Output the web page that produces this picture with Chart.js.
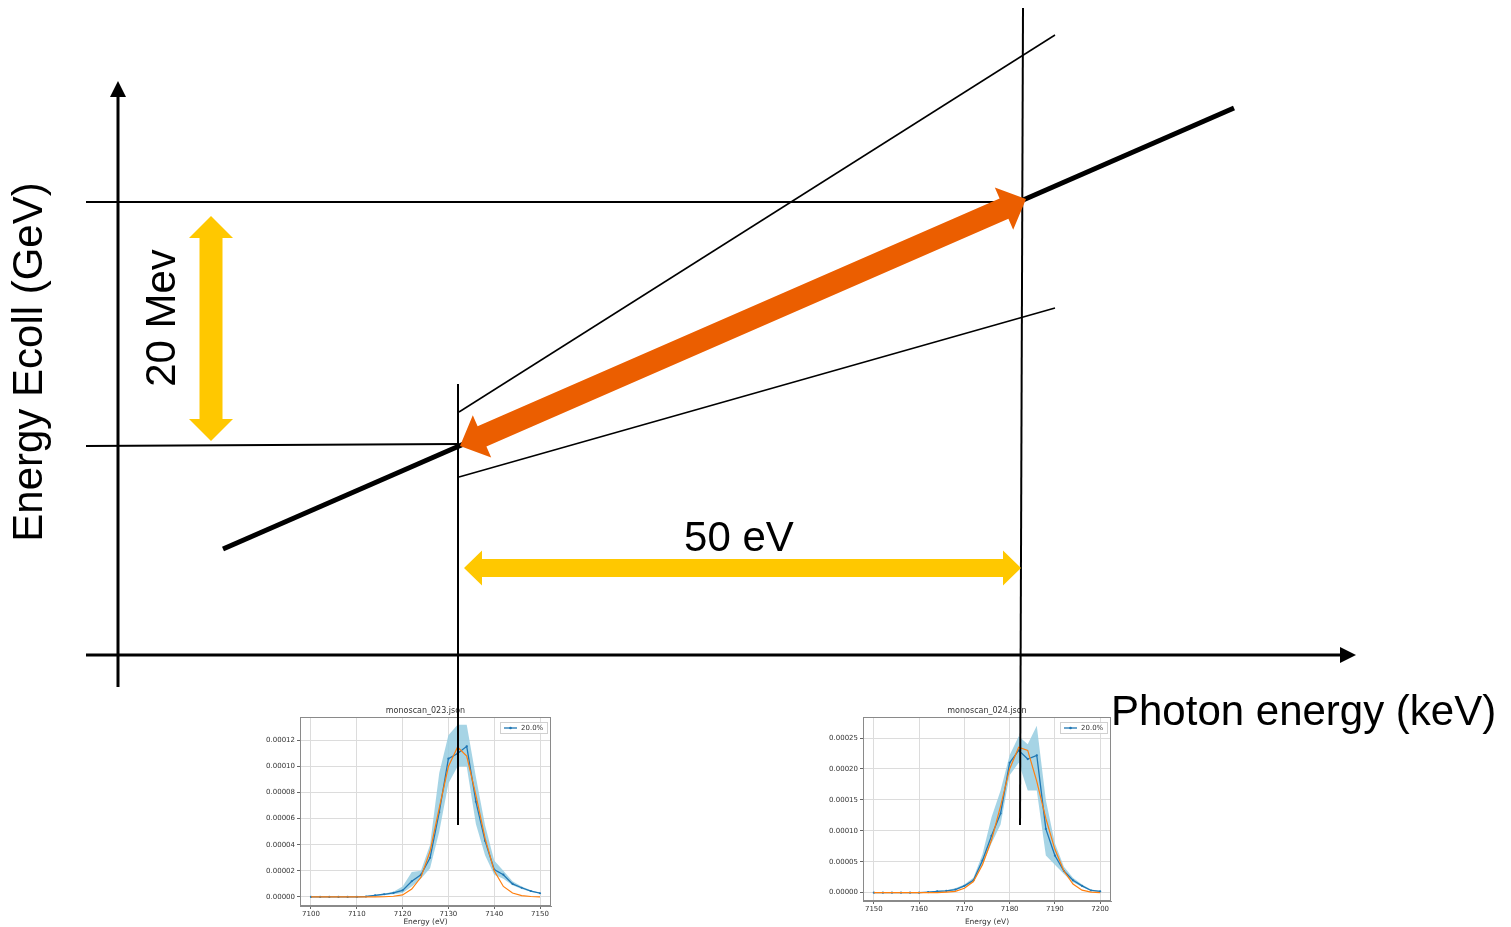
<!DOCTYPE html>
<html lang="en">
<head>
    <meta charset="UTF-8">
    <title>Energy Ecoll vs photon energy</title>
    <script src="https://cdn.jsdelivr.net/npm/chart.js"></script>
    <style>
        html, body {
            margin: 0;
            padding: 0;
            background: #fff;
            overflow: hidden;
        }
        .stage {
            position: relative;
            width: 1511px;
            height: 927px;
        }
        .scan {
            position: absolute;
            z-index: 1;
        }
        .scan canvas {
            filter: blur(0.35px);
        }
        .diagram {
            position: absolute;
            left: 0;
            top: 0;
            width: 1511px;
            height: 927px;
            z-index: 2;
            pointer-events: none;
        }
    </style>
</head>
<body>
<div class="stage">
    <div class="scan" style="left:255px; top:703px; width:300px; height:224px;">
        <canvas id="scanA"></canvas>
    </div>
    <div class="scan" style="left:820px; top:700px; width:295px; height:227px;">
        <canvas id="scanB"></canvas>
    </div>
    <div class="diagram">
        <canvas id="diagram"></canvas>
    </div>
</div>

<script>
    // ---- schematic (diagram units, y grows downward) ----
    const ridgeLine   = [[223, 549], [1234, 108]];
    const upperEdge   = [[459, 412], [1055, 35]];
    const lowerEdge   = [[459, 477], [1055, 308]];
    const levelHigh   = [[86, 202], [1022, 202]];
    const levelLow    = [[86, 446], [458, 444]];
    const scanLeft    = [[458, 384], [458, 825]];
    const scanRight   = [[1023, 8], [1020, 825]];
    const axisEcoll   = [[118, 687], [118, 81]];
    const axisPhoton  = [[86, 655], [1356, 655]];
    const spanEcoll   = [[211, 216], [211, 441]];
    const spanPhoton  = [[464, 568], [1021, 568]];
    const shiftArrow  = [[460, 446], [1026, 199]];

    const diagramTexts = ['Energy Ecoll (GeV)', '20 Mev', '50 eV', 'Photon energy (keV)'];

    // ---- monoscan_023.json ----
    const energyA = [7100, 7102, 7104, 7106, 7108, 7110, 7112, 7114, 7116, 7118, 7120, 7122, 7124,
                     7126, 7128, 7130, 7132, 7134, 7136, 7138, 7140, 7142, 7144, 7146, 7148, 7150];
    const meanA = [0, 0, 0, 0, 0, 0, 0.3e-6, 1.2e-6, 2e-6, 3e-6, 5e-6, 12e-6, 17e-6,
                   30e-6, 65e-6, 106e-6, 110e-6, 115.5e-6, 73e-6, 43e-6, 21e-6, 17e-6, 10e-6, 7e-6, 4.5e-6, 2.8e-6];
    const fitA = [0, 0, 0, 0, 0, 0, 0, 0, 0.1e-6, 0.5e-6, 1.5e-6, 6e-6, 15e-6,
                  35e-6, 68e-6, 100e-6, 115e-6, 108e-6, 78e-6, 45e-6, 20e-6, 8e-6, 3e-6, 1e-6, 0.3e-6, 0];
    const hiA = [0, 0, 0, 0, 0, 0, 0.5e-6, 1.6e-6, 2.6e-6, 4e-6, 8e-6, 19e-6, 20e-6,
                 40e-6, 95e-6, 124e-6, 132e-6, 132e-6, 92e-6, 55e-6, 28e-6, 20e-6, 12e-6, 8e-6, 5e-6, 3e-6];
    const loA = [0, 0, 0, 0, 0, 0, 0.1e-6, 0.8e-6, 1.5e-6, 2e-6, 3e-6, 8e-6, 14e-6,
                 22e-6, 50e-6, 87e-6, 100e-6, 100e-6, 56e-6, 32e-6, 17e-6, 14e-6, 9e-6, 6e-6, 4e-6, 2.5e-6];

    // ---- monoscan_024.json ----
    const energyB = [7150, 7152, 7154, 7156, 7158, 7160, 7162, 7164, 7166, 7168, 7170, 7172, 7174,
                     7176, 7178, 7180, 7182, 7184, 7186, 7188, 7190, 7192, 7194, 7196, 7198, 7200];
    const meanB = [0, 0, 0, 0, 0, 0, 1e-6, 2e-6, 3e-6, 5e-6, 11e-6, 20e-6, 52e-6,
                   92e-6, 128e-6, 210e-6, 230e-6, 216e-6, 222e-6, 103e-6, 60e-6, 35e-6, 20e-6, 11e-6, 3.5e-6, 2e-6];
    const fitB = [0, 0, 0, 0, 0, 0, 0, 0, 1e-6, 2e-6, 7e-6, 18e-6, 45e-6,
                  85e-6, 140e-6, 200e-6, 235e-6, 230e-6, 180e-6, 120e-6, 70e-6, 35e-6, 14e-6, 4e-6, 1e-6, 0];
    const hiB = [0, 0, 0, 0, 0, 0, 1.5e-6, 3e-6, 4e-6, 7e-6, 13e-6, 24e-6, 62e-6,
                 122e-6, 165e-6, 222e-6, 253e-6, 240e-6, 270e-6, 150e-6, 80e-6, 42e-6, 24e-6, 13e-6, 5e-6, 3e-6];
    const loB = [0, 0, 0, 0, 0, 0, 0.5e-6, 1.5e-6, 2e-6, 4e-6, 9e-6, 17e-6, 45e-6,
                 80e-6, 110e-6, 190e-6, 210e-6, 165e-6, 165e-6, 60e-6, 45e-6, 30e-6, 17e-6, 9e-6, 2.5e-6, 1.5e-6];

    const yellow = '#FFC800';
    const orange = '#EB5E00';

    const pts = arr => arr.map(([x, y]) => ({ x: x, y: y }));

    function segment(points, width) {
        return {
            data: pts(points),
            showLine: true,
            borderColor: '#000',
            borderWidth: width,
            pointRadius: 0,
            borderCapStyle: 'butt'
        };
    }

    // filled arrow with one or two heads, geometry in pixels
    function drawArrow(ctx, p0, p1, shaft, headW, headL, both) {
        const dx = p1.x - p0.x, dy = p1.y - p0.y;
        const len = Math.hypot(dx, dy);
        const ux = dx / len, uy = dy / len, nx = -uy, ny = ux;
        const s = shaft / 2, h = headW / 2, b = len - headL;
        let shape = [];
        if (both) {
            shape.push([0, 0], [headL, -h], [headL, -s]);
        } else {
            shape.push([0, -s]);
        }
        shape.push([b, -s], [b, -h], [len, 0], [b, h], [b, s]);
        if (both) {
            shape.push([headL, s], [headL, h]);
        } else {
            shape.push([0, s]);
        }
        ctx.beginPath();
        shape.forEach(([t, n], i) => {
            const X = p0.x + ux * t + nx * n, Y = p0.y + uy * t + ny * n;
            if (i) ctx.lineTo(X, Y); else ctx.moveTo(X, Y);
        });
        ctx.closePath();
        ctx.fill();
    }

    const arrowSpecs = [
        { line: axisEcoll, color: '#000', shaft: 3, headW: 16, headL: 16, both: false },
        { line: axisPhoton, color: '#000', shaft: 3, headW: 16, headL: 16, both: false },
        { line: spanEcoll, color: yellow, shaft: 23, headW: 44, headL: 22, both: true },
        { line: spanPhoton, color: yellow, shaft: 18, headW: 35, headL: 18, both: true },
        { line: shiftArrow, color: orange, shaft: 22, headW: 46, headL: 24, both: true }
    ];

    const textSpecs = [
        { at: [42, 362], rotate: true, align: 'center' },
        { at: [175, 318], rotate: true, align: 'center' },
        { at: [739, 551], rotate: false, align: 'center' },
        { at: [1111, 725], rotate: false, align: 'left' }
    ];

    const diagramPlugin = {
        id: 'diagramArrows',
        afterDatasetsDraw(chart) {
            const ctx = chart.ctx;
            const xs = chart.scales.x, ys = chart.scales.y;
            const px = p => ({ x: xs.getPixelForValue(p[0]), y: ys.getPixelForValue(p[1]) });
            ctx.save();
            arrowSpecs.forEach(a => {
                ctx.fillStyle = a.color;
                drawArrow(ctx, px(a.line[0]), px(a.line[1]), a.shaft, a.headW, a.headL, a.both);
            });
            ctx.fillStyle = '#000';
            ctx.font = '42px "Liberation Sans", Arial, sans-serif';
            ctx.textBaseline = 'alphabetic';
            diagramTexts.forEach((txt, i) => {
                const t = textSpecs[i];
                const p = px(t.at);
                ctx.save();
                ctx.translate(p.x, p.y);
                if (t.rotate) ctx.rotate(-Math.PI / 2);
                ctx.textAlign = t.align;
                ctx.fillText(txt, 0, 0);
                ctx.restore();
            });
            ctx.restore();
        }
    };

    new Chart(document.getElementById('diagram'), {
        type: 'scatter',
        data: {
            datasets: [
                segment(levelHigh, 2),
                segment(levelLow, 2),
                segment(upperEdge, 1.5),
                segment(lowerEdge, 1.5),
                segment(scanLeft, 2),
                segment(scanRight, 2),
                segment(ridgeLine, 5)
            ]
        },
        options: {
            responsive: true,
            maintainAspectRatio: false,
            animation: false,
            layout: { padding: 0 },
            plugins: { legend: { display: false }, tooltip: { enabled: false } },
            scales: {
                x: { type: 'linear', min: 0, max: 1511, display: false },
                y: { type: 'linear', min: 0, max: 927, reverse: true, display: false }
            }
        },
        plugins: [diagramPlugin]
    });

    // ---- matplotlib-like inset scans ----
    const scanFont = '"DejaVu Sans", sans-serif';

    const scanFrame = {
        id: 'scanFrame',
        afterDatasetsDraw(chart) {
            const ctx = chart.ctx, a = chart.chartArea;
            const o = chart.options.plugins.scanFrame;
            ctx.save();
            ctx.strokeStyle = '#8a8a8a';
            ctx.lineWidth = 1;
            ctx.strokeRect(a.left + 0.5, a.top + 0.5, a.right - a.left - 1, a.bottom - a.top - 1);

            // title
            ctx.fillStyle = '#333';
            ctx.font = '8px ' + scanFont;
            ctx.textAlign = 'center';
            ctx.textBaseline = 'bottom';
            ctx.fillText(o.title, (a.left + a.right) / 2, a.top - 2);

            // legend box
            const bw = 47, bh = 11;
            const bx = a.right - bw - 4, by = a.top + 5;
            ctx.fillStyle = 'rgba(255,255,255,0.85)';
            ctx.fillRect(bx, by, bw, bh);
            ctx.strokeStyle = '#d0d0d0';
            ctx.strokeRect(bx + 0.5, by + 0.5, bw, bh);
            ctx.strokeStyle = '#1f77b4';
            ctx.lineWidth = 1.3;
            ctx.beginPath();
            ctx.moveTo(bx + 4, by + bh / 2 + 0.5);
            ctx.lineTo(bx + 17, by + bh / 2 + 0.5);
            ctx.stroke();
            ctx.fillStyle = '#1f77b4';
            ctx.beginPath();
            ctx.arc(bx + 10.5, by + bh / 2 + 0.5, 1.3, 0, Math.PI * 2);
            ctx.fill();
            ctx.fillStyle = '#333';
            ctx.font = '7px ' + scanFont;
            ctx.textAlign = 'left';
            ctx.textBaseline = 'middle';
            ctx.fillText(chart.data.datasets[2].label, bx + 21, by + bh / 2 + 1);
            ctx.restore();
        }
    };

    function xy(xv, yv) {
        return xv.map((x, i) => ({ x: x, y: yv[i] }));
    }

    function makeScan(id, title, energy, mean, fit, hi, lo, lim) {
        new Chart(document.getElementById(id), {
            type: 'line',
            data: {
                datasets: [
                    { label: 'hi', data: xy(energy, hi), borderWidth: 0, pointRadius: 0,
                      backgroundColor: 'rgba(150,205,225,0.85)', fill: '+1', order: 3 },
                    { label: 'lo', data: xy(energy, lo), borderWidth: 0, pointRadius: 0,
                      fill: false, order: 3 },
                    { label: '20.0%', data: xy(energy, mean), borderColor: '#1f77b4', borderWidth: 1.3,
                      pointRadius: 1.1, pointBackgroundColor: '#1f77b4', pointBorderWidth: 0,
                      fill: false, tension: 0, order: 2 },
                    { label: 'fit', data: xy(energy, fit), borderColor: '#ff7f0e', borderWidth: 1.2,
                      pointRadius: 0, fill: false, tension: 0, order: 1 }
                ]
            },
            options: {
                responsive: true,
                maintainAspectRatio: false,
                animation: false,
                layout: { padding: { top: lim.top, right: 4, left: 0, bottom: 0 } },
                plugins: {
                    legend: { display: false },
                    tooltip: { enabled: false },
                    scanFrame: { title: title }
                },
                scales: {
                    x: {
                        type: 'linear',
                        min: lim.xmin, max: lim.xmax,
                        afterFit: s => { s.height = lim.xh; },
                        grid: { color: '#dcdcdc', tickColor: '#666', tickLength: 3 },
                        border: { color: '#8a8a8a' },
                        ticks: {
                            stepSize: 10, includeBounds: false, maxRotation: 0, padding: 1,
                            color: '#333', font: { family: scanFont, size: 7 },
                            callback: v => String(v)
                        },
                        title: {
                            display: true, text: 'Energy (eV)', color: '#333',
                            font: { family: scanFont, size: 7.5 }, padding: 0
                        }
                    },
                    y: {
                        type: 'linear',
                        min: lim.ymin, max: lim.ymax,
                        afterFit: s => { s.width = lim.yw; },
                        grid: { color: '#dcdcdc', tickColor: '#666', tickLength: 3 },
                        border: { color: '#8a8a8a' },
                        ticks: {
                            stepSize: lim.ystep, includeBounds: false, padding: 2,
                            color: '#333', font: { family: scanFont, size: 7 },
                            callback: v => v.toFixed(5)
                        }
                    }
                }
            },
            plugins: [scanFrame]
        });
    }

    makeScan('scanA', 'monoscan_023.json', energyA, meanA, fitA, hiA, loA,
        { xmin: 7097.6, xmax: 7152.4, ymin: -7e-6, ymax: 138e-6, ystep: 2e-5, top: 14, xh: 21, yw: 45 });
    makeScan('scanB', 'monoscan_024.json', energyB, meanB, fitB, hiB, loB,
        { xmin: 7147.6, xmax: 7202.4, ymin: -13.5e-6, ymax: 284e-6, ystep: 5e-5, top: 17, xh: 26, yw: 43 });
</script>
</body>
</html>
